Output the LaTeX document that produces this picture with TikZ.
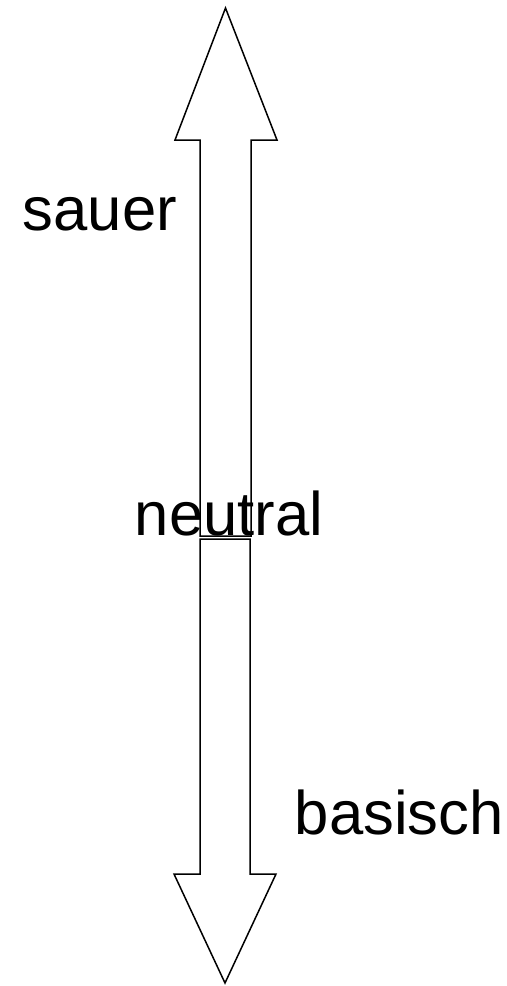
\documentclass[tikz,border=0pt]{standalone}
\usepackage{fontspec}
\setmainfont{Liberation Sans}
\begin{document}
\begin{tikzpicture}[x=0.5pt, y=-0.5pt, line width=0.75pt]
    % Rahmen (507 x 986 px)
    \useasboundingbox (0,0) rectangle (507,986);
    \tikzset{pfeil/.style={draw=black, fill=white, line join=miter},
             skala/.style={font=\fontsize{30.8}{36}\selectfont, anchor=base west, inner sep=0pt}}

    % Pfeil nach oben (sauer)
    \draw[pfeil] (200,536) -- (200,140) -- (175,140) -- (225.5,8)
        -- (277,140) -- (251,140) -- (251,536) -- cycle;

    % Pfeil nach unten (basisch)
    \draw[pfeil] (200,539) -- (250,539) -- (250,874) -- (276,874)
        -- (225,983) -- (174,874) -- (200,874) -- cycle;

    % Beschriftung
    \node[skala] (sauer) at (22,230) {sauer};
    \node[skala] (neutral) at (134,535) {neutral};
    \node[skala] (basisch) at (294,834) {basisch};
\end{tikzpicture}
\end{document}
